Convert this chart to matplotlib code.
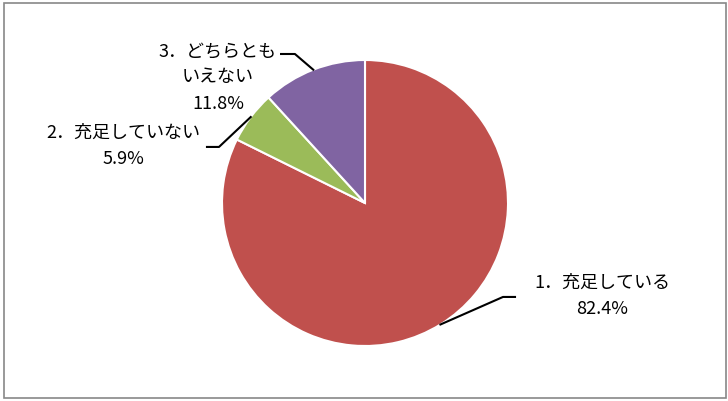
import numpy as np
import matplotlib
matplotlib.use('Agg')
import matplotlib.pyplot as plt
from matplotlib.patches import Rectangle

plt.rcParams['font.family'] = ['Noto Sans CJK JP', 'DejaVu Sans']

# data
labels = ['1．充足している', '2．充足していない', '3．どちらとも\nいえない']
values = [82.4, 5.9, 11.8]
colors = ['#C0504D', '#9BBB59', '#8064A2']

# label layout (data units, pie radius = 1): elbow, end of leader, text centre
elbows = [(0.965, -0.657), (-1.021, 0.392), (-0.490, 1.042)]
ends = [(1.049, -0.657), (-1.105, 0.392), (-0.587, 1.042)]
text_pos = [(1.66, -0.650), (-1.692, 0.402), (-1.028, 0.878)]

W, H = 728, 401
cx, cy, r = 365, 203, 143

fig = plt.figure(figsize=(W / 100, H / 100), dpi=100)
fig.patches.append(Rectangle((4 / W, 3 / H), 722 / W, 395 / H, transform=fig.transFigure,
                             fill=False, edgecolor='#888888', linewidth=1.2))

ax = fig.add_axes([(cx - r) / W, (H - cy - r) / H, 2 * r / W, 2 * r / H])
wedges, _ = ax.pie(values, colors=colors, startangle=90, counterclock=False, radius=1,
                   wedgeprops=dict(edgecolor='white', linewidth=1.5))
ax.set_xlim(-1, 1)
ax.set_ylim(-1, 1)
ax.set_aspect('equal')
ax.axis('off')

for w, lab, v, e, en, tp in zip(wedges, labels, values, elbows, ends, text_pos):
    mid = np.deg2rad((w.theta1 + w.theta2) / 2)
    start = (np.cos(mid), np.sin(mid))
    ax.plot([start[0], e[0], en[0]], [start[1], e[1], en[1]], color='black',
            linewidth=1.5, clip_on=False)
    ax.text(tp[0], tp[1], '%s\n%.1f%%' % (lab, v), ha='center', va='center',
            multialignment='center', fontsize=13, linespacing=1.6, clip_on=False)

fig.savefig('out.png', dpi=100)
